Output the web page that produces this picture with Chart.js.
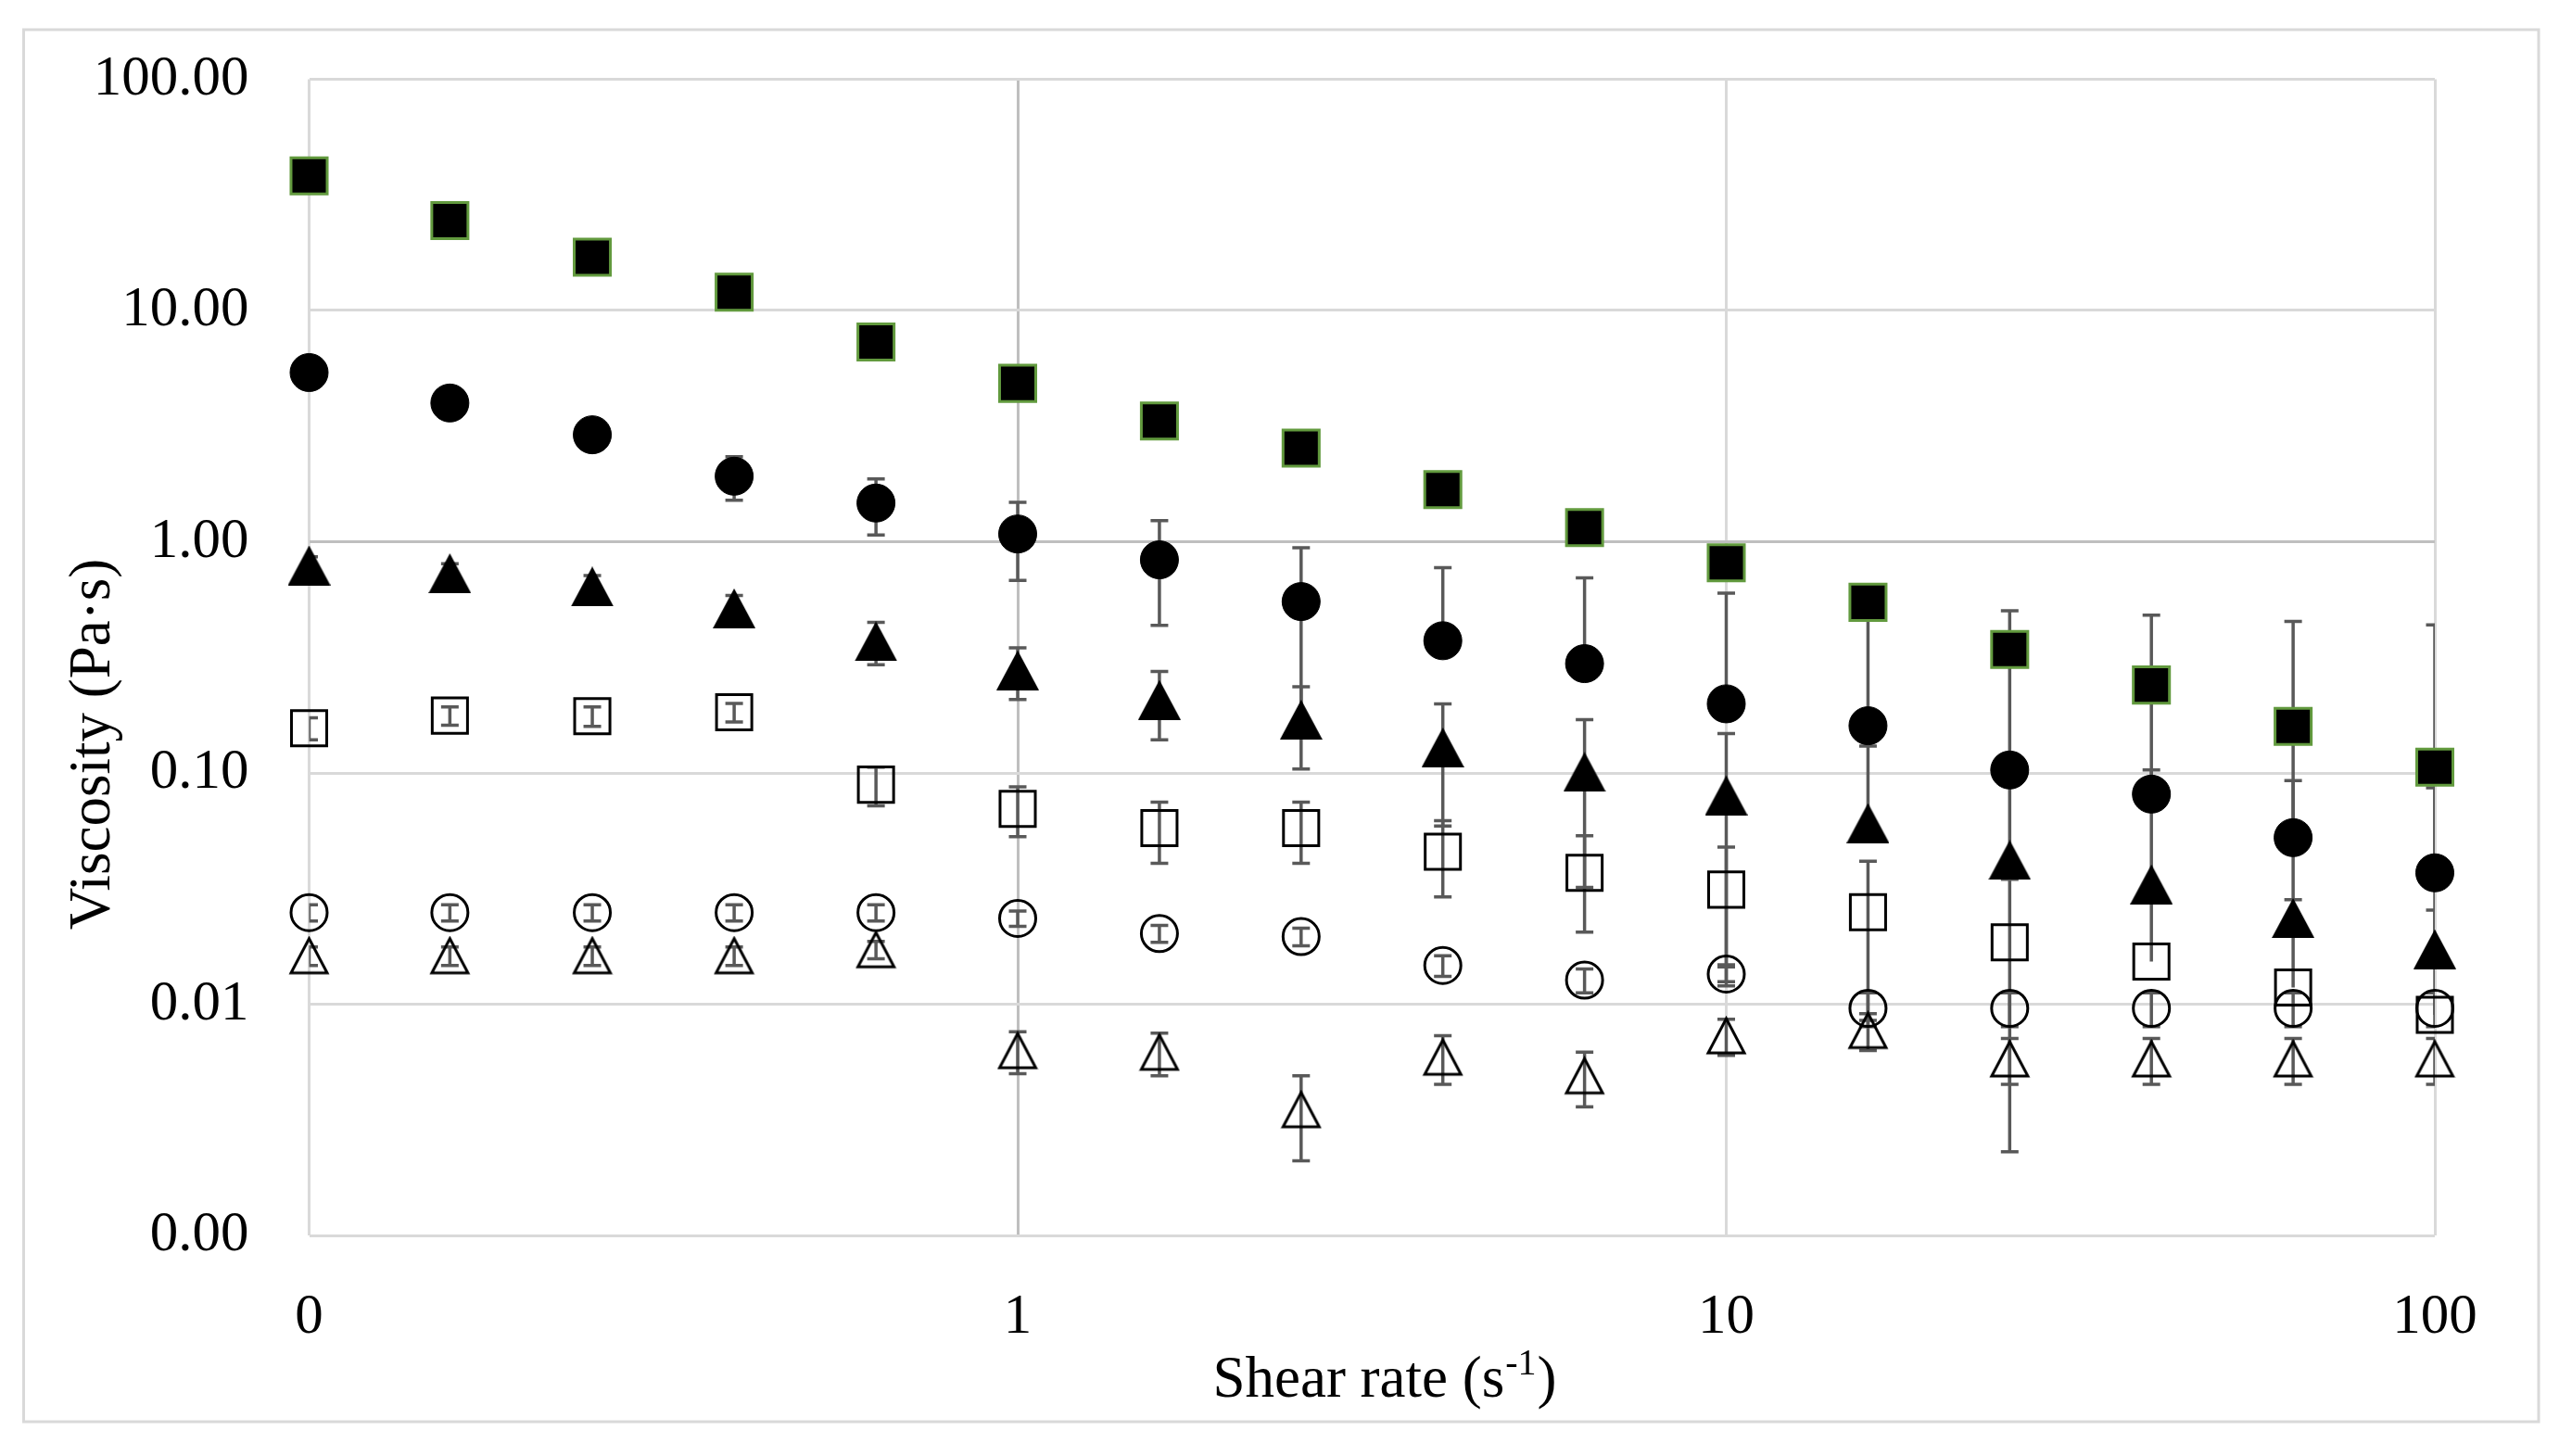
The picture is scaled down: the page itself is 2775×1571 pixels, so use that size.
<!DOCTYPE html>
<html>
<head>
<meta charset="utf-8">
<title>Viscosity vs shear rate</title>
<script src="https://cdn.jsdelivr.net/npm/chart.js@4.4.1/dist/chart.umd.min.js"></script>
<style>
  html, body { margin: 0; padding: 0; background: #fff; }
  canvas { display: block; }
</style>
</head>
<body>
<canvas id="chart" width="2775" height="1571" style="width:2775px;height:1571px"></canvas>
<script>
// shear rate (1/s), 5 points per decade
const shearRate = [0.1, 0.158, 0.251, 0.398, 0.631, 1, 1.585, 2.512, 3.981, 6.31, 10, 15.85, 25.12, 39.81, 63.1, 100];

// viscosity (Pa.s)
const solidSquare   = [38.2, 24.5, 17.0, 12.0, 7.3, 4.84, 3.33, 2.54, 1.68, 1.15, 0.81, 0.547, 0.342, 0.24, 0.159, 0.106];
const solidCircle   = [5.39, 3.98, 2.9, 1.92, 1.47, 1.08, 0.835, 0.551, 0.373, 0.297, 0.199, 0.16, 0.103, 0.081, 0.0525, 0.037];
const solidTriangle = [0.79, 0.73, 0.64, 0.515, 0.371, 0.278, 0.207, 0.17, 0.129, 0.101, 0.08, 0.0607, 0.042, 0.033, 0.0236, 0.0173];
const openSquare    = [0.156, 0.177, 0.176, 0.183, 0.089, 0.07, 0.0577, 0.0577, 0.0456, 0.037, 0.0313, 0.025, 0.0185, 0.0153, 0.0118, 0.009];
const openCircle    = [0.0249, 0.0249, 0.0249, 0.0249, 0.0249, 0.0235, 0.0202, 0.0196, 0.0147, 0.0127, 0.0135, 0.0096, 0.0096, 0.0096, 0.0096, 0.0096];
const openTriangle  = [0.0162, 0.0162, 0.0162, 0.0162, 0.0172, 0.0063, 0.0062, 0.0035, 0.0059, 0.0049, 0.0073, 0.0077, 0.0058, 0.0058, 0.0058, 0.0058];

// standard deviations (error bars)
const sdSolidCircle   = [0.40, 0.40, 0.40, 0.41, 0.40, 0.40, 0.40, 0.39, 0.40, 0.40, 0.40, 0.40, 0.40, 0.40, 0.40, 0.40];
const sdSolidTriangle = [0.07, 0.074, 0.074, 0.07, 0.077, 0.07, 0.068, 0.066, 0.07, 0.069, 0.068, 0.07, 0.07, 0.07, 0.069, 0.069];
const sdOpenSquare    = [0.017, 0.016, 0.017, 0.017, 0.017, 0.017, 0.017, 0.017, 0.0165, 0.0165, 0.0165, 0.0165, 0.0162, 0.0165, 0.0165, 0.0165];
const sdOpenCircle    = [0.002, 0.002, 0.002, 0.002, 0.002, 0.0018, 0.0017, 0.0017, 0.0015, 0.0015, 0.001, 0.0016, 0.0016, 0.0016, 0.0016, 0.0016];
const sdOpenTriangle  = [0.0015, 0.0015, 0.0015, 0.0015, 0.0015, 0.0013, 0.0013, 0.0014, 0.0014, 0.0013, 0.0013, 0.0014, 0.0013, 0.0013, 0.0013, 0.0013];

const xTicks = [0.1, 1, 10, 100];
const yTicks = [0.001, 0.01, 0.1, 1, 10, 100];

const FONT = "'Liberation Serif', 'DejaVu Serif', serif";

function pts(ys) {
  return ys.map((v, i) => ({ x: shearRate[i], y: v }));
}

// triangles centred on their bounding box like the spreadsheet markers
function triangle(w, h, filled, lw) {
  const pad = filled ? 0 : lw;
  const c = document.createElement('canvas');
  c.width = w + pad * 2;
  c.height = h + pad * 2;
  const g = c.getContext('2d');
  g.beginPath();
  g.moveTo(c.width / 2, pad);
  g.lineTo(c.width - pad, c.height - pad);
  g.lineTo(pad, c.height - pad);
  g.closePath();
  if (filled) {
    g.fillStyle = '#000';
    g.fill();
  } else {
    g.strokeStyle = '#000';
    g.lineWidth = lw;
    g.stroke();
  }
  return c;
}

const errorBars = {
  id: 'errorBars',
  beforeDraw(chart) {
    const ctx = chart.ctx;
    ctx.save();
    ctx.fillStyle = '#fff';
    ctx.fillRect(0, 0, chart.width, chart.height);
    ctx.strokeStyle = '#d9d9d9';
    ctx.lineWidth = 3;
    ctx.strokeRect(25.5, 32, 2713.5, 1502);
    ctx.restore();
  },
  beforeDatasetsDraw(chart) {
    const ctx = chart.ctx, xs = chart.scales.x, ys = chart.scales.y, a = chart.chartArea;
    ctx.save();
    ctx.beginPath();
    ctx.rect(a.left, a.top, a.right - a.left, a.bottom - a.top);
    ctx.clip();
    ctx.strokeStyle = '#595959';
    ctx.lineWidth = 3.5;
    chart.data.datasets.forEach(ds => {
      if (!ds.sd) return;
      ds.data.forEach((p, i) => {
        const s = ds.sd[i];
        const px = xs.getPixelForValue(p.x);
        const py = ys.getPixelForValue(p.y);
        const top = ys.getPixelForValue(p.y + s);
        ctx.beginPath();
        ctx.moveTo(px, py); ctx.lineTo(px, top);
        ctx.moveTo(px - 9.5, top); ctx.lineTo(px + 9.5, top);
        if (p.y - s > 0) {
          const bot = ys.getPixelForValue(p.y - s);
          ctx.moveTo(px, py); ctx.lineTo(px, bot);
          ctx.moveTo(px - 9.5, bot); ctx.lineTo(px + 9.5, bot);
        }
        ctx.stroke();
      });
    });
    ctx.restore();
  },
  afterDraw(chart) {
    const ctx = chart.ctx;
    ctx.save();
    ctx.fillStyle = '#000';
    // x title with superscript
    const main = 'Shear rate (s', sup = '-1', end = ')';
    ctx.font = '63px ' + FONT;
    const w1 = ctx.measureText(main).width, w3 = ctx.measureText(end).width;
    ctx.font = '40px ' + FONT;
    const w2 = ctx.measureText(sup).width;
    let x = 1493 - (w1 + w2 + w3) / 2;
    const base = 1507;
    ctx.textBaseline = 'alphabetic';
    ctx.textAlign = 'left';
    ctx.font = '63px ' + FONT;
    ctx.fillText(main, x, base);
    ctx.font = '40px ' + FONT;
    ctx.fillText(sup, x + w1 + 1, base - 24);
    ctx.font = '63px ' + FONT;
    ctx.fillText(end, x + w1 + w2 + 2, base);
    // y title
    ctx.translate(118, 803);
    ctx.rotate(-Math.PI / 2);
    ctx.textAlign = 'center';
    ctx.fillText('Viscosity (Pa\u00b7s)', 0, 0);
    ctx.restore();
  }
};

const ctx = document.getElementById('chart').getContext('2d');
const myChart = new Chart(ctx, {
  type: 'scatter',
  data: {
    datasets: [
      {
        data: pts(solidSquare),
        pointStyle: 'rect', pointRadius: 27.6,
        backgroundColor: '#000', borderColor: '#629a3e', borderWidth: 3
      },
      {
        data: pts(solidCircle), sd: sdSolidCircle,
        pointStyle: 'circle', pointRadius: 20.5,
        backgroundColor: '#000', borderColor: '#000', borderWidth: 1
      },
      {
        data: pts(solidTriangle), sd: sdSolidTriangle,
        pointStyle: triangle(46, 43, true, 0), pointRadius: 22,
        backgroundColor: '#000', borderColor: '#000'
      },
      {
        data: pts(openSquare), sd: sdOpenSquare,
        pointStyle: 'rect', pointRadius: 26.9,
        backgroundColor: 'rgba(0,0,0,0)', borderColor: '#000', borderWidth: 3
      },
      {
        data: pts(openCircle), sd: sdOpenCircle,
        pointStyle: 'circle', pointRadius: 19.5,
        backgroundColor: 'rgba(0,0,0,0)', borderColor: '#000', borderWidth: 3
      },
      {
        data: pts(openTriangle), sd: sdOpenTriangle,
        pointStyle: triangle(39, 37, false, 3), pointRadius: 21,
        backgroundColor: 'rgba(0,0,0,0)', borderColor: '#000'
      }
    ]
  },
  options: {
    responsive: false,
    devicePixelRatio: 1,
    animation: false,
    events: [],
    clip: false,
    layout: { padding: { left: 0, top: 85.5, right: 148, bottom: 0 } },
    plugins: {
      legend: { display: false },
      tooltip: { enabled: false }
    },
    scales: {
      x: {
        type: 'logarithmic',
        min: 0.1, max: 100,
        afterBuildTicks: s => { s.ticks = xTicks.map(v => ({ value: v })); },
        afterFit: s => { s.height = 238; },
        ticks: {
          callback: v => Number(v).toFixed(0),
          color: '#000',
          font: { family: FONT, size: 61 },
          padding: 52,
          maxRotation: 0,
          autoSkip: false
        },
        grid: {
          color: c => (c.tick && c.tick.value === 1) ? '#bfbfbf' : '#d9d9d9',
          lineWidth: 3,
          drawTicks: false
        },
        border: { display: false }
      },
      y: {
        type: 'logarithmic',
        min: 0.001, max: 100,
        afterBuildTicks: s => { s.ticks = yTicks.map(v => ({ value: v })); },
        afterFit: s => {
          s.width = 333.5;
          // label padding should not push the plot area down
          s.paddingTop = 40;
          s.paddingBottom = 40;
        },
        ticks: {
          callback: v => Number(v).toFixed(2),
          color: '#000',
          font: { family: FONT, size: 61 },
          padding: 65,
          autoSkip: false
        },
        grid: {
          color: c => (c.tick && c.tick.value === 1) ? '#bfbfbf' : '#d9d9d9',
          lineWidth: 3,
          drawTicks: false
        },
        border: { display: false }
      }
    }
  },
  plugins: [errorBars]
});
</script>
</body>
</html>
